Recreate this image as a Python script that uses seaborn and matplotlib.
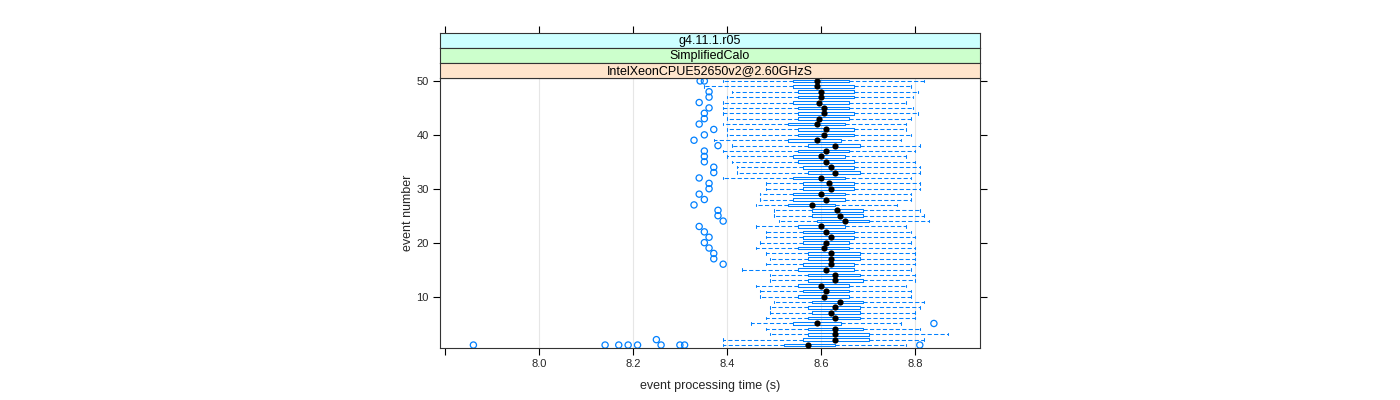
import numpy as np
import pandas as pd
import matplotlib
matplotlib.use("Agg")
import matplotlib.pyplot as plt
import seaborn as sns

# ---------------- data ----------------
events = list(range(1, 51))
lower_whisker = [8.392, 8.392, 8.491, 8.482, 8.451, 8.482, 8.491, 8.491, 8.501, 8.471,
                 8.471, 8.462, 8.491, 8.491, 8.431, 8.482, 8.491, 8.482, 8.462, 8.471,
                 8.482, 8.482, 8.462, 8.511, 8.501, 8.501, 8.462, 8.471, 8.471, 8.482,
                 8.482, 8.392, 8.421, 8.421, 8.411, 8.401, 8.392, 8.411, 8.372, 8.401,
                 8.401, 8.392, 8.401, 8.392, 8.392, 8.392, 8.401, 8.411, 8.352, 8.392]
q1 = [8.522, 8.561, 8.572, 8.572, 8.541, 8.572, 8.581, 8.572, 8.581, 8.552,
      8.561, 8.552, 8.572, 8.572, 8.552, 8.561, 8.572, 8.572, 8.552, 8.561,
      8.561, 8.561, 8.552, 8.591, 8.581, 8.581, 8.530, 8.541, 8.541, 8.561,
      8.561, 8.541, 8.572, 8.561, 8.552, 8.541, 8.552, 8.572, 8.530, 8.552,
      8.552, 8.530, 8.552, 8.552, 8.552, 8.541, 8.552, 8.552, 8.541, 8.541]
median = [8.572, 8.630, 8.630, 8.630, 8.591, 8.630, 8.621, 8.630, 8.640, 8.607,
          8.611, 8.601, 8.630, 8.630, 8.611, 8.621, 8.621, 8.621, 8.607, 8.611,
          8.621, 8.611, 8.601, 8.651, 8.640, 8.635, 8.581, 8.611, 8.601, 8.621,
          8.616, 8.601, 8.630, 8.621, 8.611, 8.601, 8.611, 8.630, 8.591, 8.607,
          8.611, 8.591, 8.596, 8.607, 8.607, 8.596, 8.601, 8.601, 8.591, 8.591]
q3 = [8.630, 8.701, 8.701, 8.690, 8.643, 8.682, 8.682, 8.682, 8.690, 8.660,
      8.660, 8.660, 8.690, 8.682, 8.671, 8.671, 8.682, 8.682, 8.660, 8.660,
      8.671, 8.671, 8.651, 8.701, 8.690, 8.690, 8.630, 8.651, 8.651, 8.671,
      8.671, 8.651, 8.682, 8.671, 8.671, 8.651, 8.660, 8.682, 8.643, 8.671,
      8.671, 8.651, 8.660, 8.671, 8.660, 8.660, 8.671, 8.671, 8.671, 8.660]
upper_whisker = [8.781, 8.820, 8.870, 8.811, 8.770, 8.800, 8.800, 8.811, 8.820, 8.791,
                 8.791, 8.781, 8.800, 8.800, 8.791, 8.800, 8.800, 8.800, 8.800, 8.791,
                 8.800, 8.791, 8.781, 8.830, 8.820, 8.811, 8.761, 8.791, 8.791, 8.811,
                 8.811, 8.791, 8.811, 8.811, 8.800, 8.781, 8.800, 8.811, 8.771, 8.791,
                 8.781, 8.781, 8.791, 8.806, 8.795, 8.781, 8.795, 8.806, 8.791, 8.820]
outlier_event = [1, 1, 1, 1, 1, 1, 1, 1, 1, 2, 5,
                 16, 17, 18, 19, 20, 21, 22, 23, 24, 25, 26, 27, 28, 29, 30,
                 31, 32, 33, 34, 35, 36, 37, 38, 39, 40, 41, 42, 43, 44, 45,
                 46, 47, 48, 50, 50]
outlier_value = [7.861, 8.141, 8.170, 8.190, 8.210, 8.260, 8.300, 8.310, 8.810, 8.250, 8.840,
                 8.392, 8.372, 8.372, 8.362, 8.352, 8.362, 8.352, 8.341, 8.392, 8.381,
                 8.381, 8.330, 8.352, 8.341, 8.362, 8.362, 8.341, 8.372, 8.372, 8.352,
                 8.352, 8.352, 8.381, 8.330, 8.352, 8.372, 8.341, 8.352, 8.352, 8.362,
                 8.341, 8.362, 8.362, 8.343, 8.352]
x_ticks = [7.8, 8.0, 8.2, 8.4, 8.6, 8.8]
x_tick_labels = ["", "8.0", "8.2", "8.4", "8.6", "8.8"]
y_ticks = [10, 20, 30, 40, 50]
strip_labels = ["g4.11.1.r05", "SimplifiedCalo", "IntelXeonCPUE52650v2@2.60GHzS"]
strip_colors = ["#CCFFFF", "#CCFFCC", "#FFE5CC"]

# ---------------- styling ----------------
sns.set_theme(style="white")
plt.rcParams["font.family"] = ["Liberation Sans", "DejaVu Sans"]
BLUE = "#0080ff"

W, H = 1400, 400
fig = plt.figure(figsize=(W / 100, H / 100), dpi=100)

px_l, px_r, px_t, px_b = 440, 980, 78, 348
ax = fig.add_axes([px_l / W, 1 - px_b / H, (px_r - px_l) / W, (px_b - px_t) / H])

xlim = (7.79, 8.938)
ylim = (0.45, 50.55)

# gridlines
for gx in x_ticks[1:]:
    ax.axvline(gx, color="#e6e6e6", lw=0.8, zorder=0)

stats = []
for i in range(len(events)):
    stats.append(dict(whislo=lower_whisker[i], q1=q1[i], med=median[i],
                      q3=q3[i], whishi=upper_whisker[i], fliers=[]))

bxp_kw = dict(positions=events, widths=0.5, showfliers=False, patch_artist=False,
              boxprops=dict(color=BLUE, linewidth=0.75),
              whiskerprops=dict(color=BLUE, linewidth=0.75, linestyle=(0, (4, 2.2))),
              capprops=dict(color=BLUE, linewidth=0.75),
              medianprops=dict(linestyle="none", visible=False), manage_ticks=False)
try:
    ax.bxp(stats, orientation="horizontal", capwidths=0.45, **bxp_kw)
except TypeError:
    ax.bxp(stats, vert=False, **bxp_kw)

out_df = pd.DataFrame({"time": outlier_value, "event": outlier_event})
sns.scatterplot(data=out_df, x="time", y="event", ax=ax, marker="o", s=20,
                facecolors="none", edgecolor=BLUE, linewidth=0.9, zorder=3)
med_df = pd.DataFrame({"time": median, "event": events})
sns.scatterplot(data=med_df, x="time", y="event", ax=ax, color="black", s=20,
                linewidth=0, zorder=4)

ax.set_xlim(*xlim)
ax.set_ylim(*ylim)
ax.set_xticks(x_ticks)
ax.set_xticklabels(x_tick_labels)
ax.set_yticks(y_ticks)
ax.set_yticklabels([str(v) for v in y_ticks])
ax.tick_params(axis="both", which="both", direction="out", length=5, width=0.8,
               color="black", labelsize=8, pad=3)
ax.tick_params(axis="y", left=True, right=True, labelright=False)
ax.tick_params(axis="x", bottom=True, top=False)
ax.set_xlabel("event processing time (s)", fontsize=9, labelpad=8)
ax.set_ylabel("event number", fontsize=9, labelpad=2)
for sp in ax.spines.values():
    sp.set_color("#333333")
    sp.set_linewidth(0.8)
ax.grid(False)

# ---------------- strips ----------------
strip_h = 15
tops = [33, 48, 63]
for k, (lab, col) in enumerate(zip(strip_labels, strip_colors)):
    t = tops[k]
    sax = fig.add_axes([px_l / W, 1 - (t + strip_h) / H, (px_r - px_l) / W, strip_h / H])
    sax.set_facecolor(col)
    sax.set_xlim(*xlim)
    sax.set_ylim(0, 1)
    sax.set_yticks([])
    if k == 0:
        sax.set_xticks(x_ticks)
        sax.tick_params(axis="x", top=True, bottom=False, labeltop=False,
                        labelbottom=False, direction="out", length=5, width=0.8,
                        color="black")
    else:
        sax.set_xticks([])
    for sp in sax.spines.values():
        sp.set_color("#333333")
        sp.set_linewidth(0.8)
    sax.text(0.5, 0.45, lab, transform=sax.transAxes, ha="center", va="center",
             fontsize=9, color="black")

fig.savefig("out.png", dpi=100)
